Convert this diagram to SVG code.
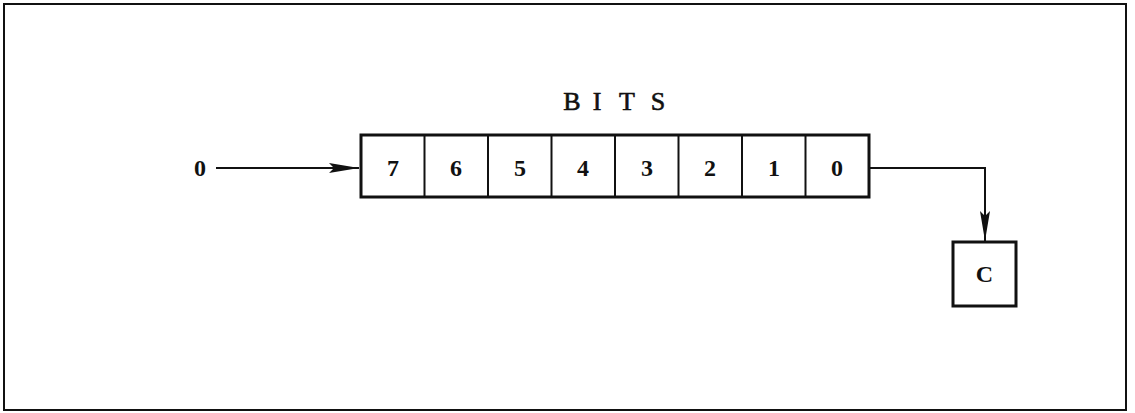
<svg xmlns="http://www.w3.org/2000/svg" width="1135" height="413" viewBox="0 0 1135 413">
<style>
.t{font-family:"Liberation Serif","Times New Roman",serif;font-size:24px;font-weight:bold;text-anchor:middle;fill:#111}
.h{font-size:26px;font-weight:normal;stroke:#111;stroke-width:0.6}
.box{fill:#fff;stroke:#111;stroke-width:3}
.div{stroke:#111;stroke-width:2}
.con{fill:none;stroke:#111;stroke-width:2}
</style>
<defs>
<marker id="ah" markerWidth="30" markerHeight="12" refX="30" refY="6" orient="auto" markerUnits="userSpaceOnUse">
<path d="M0,1 L30,6 L0,11 L5,6 Z" fill="#111"/>
</marker>
</defs>
<rect x="4" y="4" width="1122" height="406" fill="#fff" stroke="#111" stroke-width="2"/>
<g id="title">
<text class="t h" x="572" y="110">B</text>
<text class="t h" x="597" y="110">I</text>
<text class="t h" x="627" y="110">T</text>
<text class="t h" x="658" y="110">S</text>
</g>
<text class="t" x="200" y="176">0</text>
<g id="connectors">
<line class="con" x1="216" y1="168" x2="359" y2="168" marker-end="url(#ah)"/>
<path class="con" d="M869,168 H985 V241" marker-end="url(#ah)"/>
</g>
<g id="register">
<rect class="box" x="361" y="135" width="508" height="62"/>
<line class="div" x1="424.5" y1="135" x2="424.5" y2="197"/>
<line class="div" x1="488" y1="135" x2="488" y2="197"/>
<line class="div" x1="551.5" y1="135" x2="551.5" y2="197"/>
<line class="div" x1="615" y1="135" x2="615" y2="197"/>
<line class="div" x1="678.5" y1="135" x2="678.5" y2="197"/>
<line class="div" x1="742" y1="135" x2="742" y2="197"/>
<line class="div" x1="805.5" y1="135" x2="805.5" y2="197"/>
<text class="t" x="393" y="176">7</text>
<text class="t" x="456" y="176">6</text>
<text class="t" x="520" y="176">5</text>
<text class="t" x="583" y="176">4</text>
<text class="t" x="647" y="176">3</text>
<text class="t" x="710" y="176">2</text>
<text class="t" x="774" y="176">1</text>
<text class="t" x="837" y="176">0</text>
</g>
<g id="carry">
<rect class="box" x="953" y="242" width="63" height="64"/>
<text class="t" x="984.5" y="282">C</text>
</g>
</svg>
